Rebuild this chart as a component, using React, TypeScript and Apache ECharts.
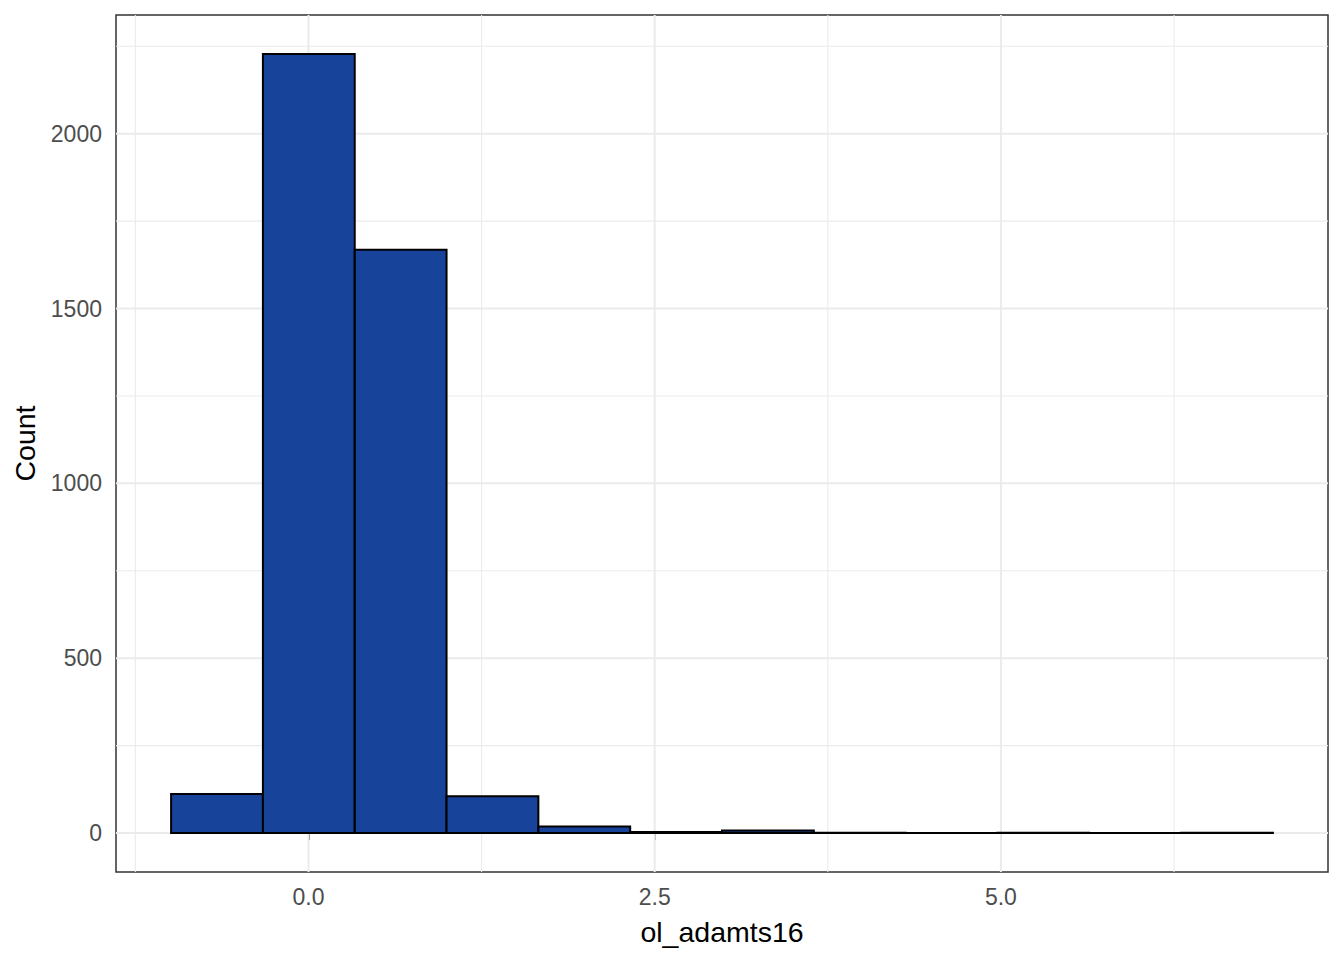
import React, { useEffect, useRef } from "react";
import * as echarts from "echarts";

// Histogram bins (12 bins)
const binStart = -0.992;
const binWidth = 0.663;
const counts = [112, 2228, 1668, 105, 19, 3, 7, 1, 0, 1, 0, 1];

// Axis ticks / grid lines
const xTicks = [0, 2.5, 5];
const xMinorGrid = [-1.25, 1.25, 3.75, 6.25];
const yTicks = [0, 500, 1000, 1500, 2000];
const yMinorGrid = [250, 750, 1250, 1750, 2250];

const xTitle = "ol_adamts16";
const yTitle = "Count";

const FONT = "'Liberation Sans', Arial, Helvetica, sans-serif";

export default function App() {
  const ref = useRef<HTMLDivElement>(null);

  useEffect(() => {
    if (!ref.current) return;
    const chart = echarts.init(ref.current, null, { renderer: "svg" });

    const binsData = counts.map((c, i) => [
      binStart + i * binWidth,
      binStart + (i + 1) * binWidth,
      c,
    ]);
    const xLo = binStart;
    const xHi = binStart + counts.length * binWidth;
    const xSpan = xHi - xLo;
    const xMin = xLo - 0.05 * xSpan;
    const xMax = xHi + 0.05 * xSpan;
    const yMaxData = Math.max(...counts);
    const yMin = -0.05 * yMaxData;
    const yMax = yMaxData * 1.05;

    const xGridData = [
      ...xTicks.map((v) => [v, 0, 1]),
      ...xMinorGrid.map((v) => [v, 0, 0]),
    ];
    const yGridData = [
      ...yTicks.map((v) => [0, v, 1]),
      ...yMinorGrid.map((v) => [0, v, 0]),
    ];

    const option: any = {
      animation: false,
      backgroundColor: "#ffffff",
      grid: {
        left: 116,
        right: 16,
        top: 15,
        bottom: 88,
        show: true,
        borderColor: "#333333",
        borderWidth: 1.5,
        backgroundColor: "#ffffff",
      },
      xAxis: {
        type: "value",
        min: xMin,
        max: xMax,
        name: xTitle,
        nameLocation: "middle",
        nameGap: 45,
        nameTextStyle: { color: "#000000", fontSize: 28.5, fontFamily: FONT },
        axisLine: { show: false },
        axisTick: {
          show: true,
          length: 7,
          customValues: xTicks,
          lineStyle: { color: "#333333", width: 1.5 },
        },
        axisLabel: {
          show: true,
          customValues: xTicks,
          margin: 13,
          color: "#4D4D4D",
          fontSize: 23,
          fontFamily: FONT,
          formatter: (v: number) => v.toFixed(1),
        },
        splitLine: { show: false },
      },
      yAxis: {
        type: "value",
        min: yMin,
        max: yMax,
        name: yTitle,
        nameLocation: "middle",
        nameGap: 72,
        nameRotate: 90,
        nameTextStyle: { color: "#000000", fontSize: 28.5, fontFamily: FONT },
        axisLine: { show: false },
        axisTick: {
          show: true,
          length: 7,
          customValues: yTicks,
          lineStyle: { color: "#333333", width: 1.5 },
        },
        axisLabel: {
          show: true,
          customValues: yTicks,
          margin: 14,
          color: "#4D4D4D",
          fontSize: 23,
          fontFamily: FONT,
          formatter: (v: number) => String(Math.round(v)),
        },
        splitLine: { show: false },
      },
      series: [
        {
          type: "custom",
          name: "xgrid",
          silent: true,
          z: 1,
          data: xGridData,
          encode: { x: 0, y: 1 },
          renderItem: (params: any, api: any) => {
            const cs = params.coordSys;
            const x = api.coord([api.value(0), 0])[0];
            const major = api.value(2) === 1;
            return {
              type: "line",
              shape: { x1: x, y1: cs.y, x2: x, y2: cs.y + cs.height },
              style: { stroke: "#EBEBEB", lineWidth: major ? 2 : 1.1 },
            };
          },
        },
        {
          type: "custom",
          name: "ygrid",
          silent: true,
          z: 1,
          data: yGridData,
          encode: { x: 0, y: 1 },
          renderItem: (params: any, api: any) => {
            const cs = params.coordSys;
            const y = api.coord([0, api.value(1)])[1];
            const major = api.value(2) === 1;
            return {
              type: "line",
              shape: { x1: cs.x, y1: y, x2: cs.x + cs.width, y2: y },
              style: { stroke: "#EBEBEB", lineWidth: major ? 2 : 1.1 },
            };
          },
        },
        {
          type: "custom",
          name: "Count",
          z: 3,
          data: binsData,
          encode: { x: [0, 1], y: 2 },
          renderItem: (params: any, api: any) => {
            const p0 = api.coord([api.value(0), api.value(2)]);
            const p1 = api.coord([api.value(1), 0]);
            const h = Math.max(p1[1] - p0[1], 0.01);
            return {
              type: "rect",
              shape: {
                x: p0[0],
                y: p1[1] - h,
                width: p1[0] - p0[0],
                height: h,
              },
              style: { fill: "#17439B", stroke: "#000000", lineWidth: 2 },
            };
          },
        },
      ],
    };

    chart.setOption(option);
    return () => {
      chart.dispose();
    };
  }, []);

  return (
    <div
      ref={ref}
      style={{ position: "fixed", left: 0, top: 0, width: 1344, height: 960 }}
    />
  );
}
